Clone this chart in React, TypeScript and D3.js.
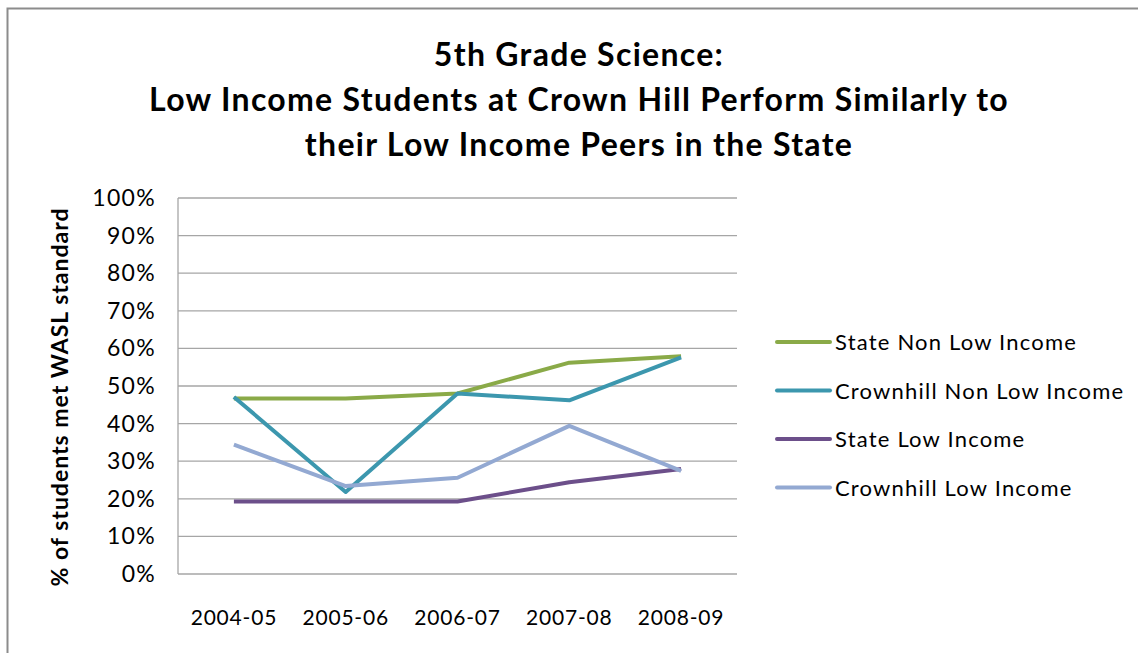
import React from "react";
import * as d3 from "d3";

const categories = ["2004-05", "2005-06", "2006-07", "2007-08", "2008-09"];
const stateNonLow = [46.7, 46.7, 48.0, 56.2, 57.9];
const crownNonLow = [47.1, 21.8, 48.0, 46.2, 57.6];
const stateLow = [19.3, 19.3, 19.3, 24.4, 27.9];
const crownLow = [34.4, 23.4, 25.6, 39.4, 27.4];
const yTicks = [0, 10, 20, 30, 40, 50, 60, 70, 80, 90, 100];
const titleLines = [
  "5th Grade Science:",
  "Low Income Students at Crown Hill Perform Similarly to",
  "their Low Income Peers in the State",
];

const series = [
  { name: "State Non Low Income", values: stateNonLow, color: "#8aaa48" },
  { name: "Crownhill Non Low Income", values: crownNonLow, color: "#3c97ae" },
  { name: "State Low Income", values: stateLow, color: "#6c4f8a" },
  { name: "Crownhill Low Income", values: crownLow, color: "#93a9d2" },
];

const W = 1138;
const H = 653;
const plot = { left: 178, right: 737, top: 198, bottom: 574 };
const FONT = "Lato, 'Open Sans', sans-serif";

export default function App() {
  const x = d3
    .scaleBand<string>()
    .domain(categories)
    .range([plot.left, plot.right]);
  const y = d3.scaleLinear().domain([0, 100]).range([plot.bottom, plot.top]);
  const line = d3
    .line<number>()
    .x((_, i) => (x(categories[i]) as number) + x.bandwidth() / 2)
    .y((d) => y(d));

  return (
    <svg
      width={W}
      height={H}
      style={{ position: "absolute", left: 0, top: 0, background: "#fff" }}
      fontFamily={FONT}
    >
      <rect x={0} y={0} width={W} height={H} fill="#fff" />
      <path d={`M7.5,${H} V8.5 H${W}`} fill="none" stroke="#8c8c8c" strokeWidth={2} />
      {titleLines.map((t, i) => (
        <text
          key={i}
          x={579}
          y={66 + i * 45}
          textAnchor="middle"
          fontWeight="bold"
          fontSize={32}
          letterSpacing={1.3}
          fill="#000"
        >
          {t}
        </text>
      ))}
      {yTicks.map((t) => (
        <g key={t}>
          <line
            x1={plot.left}
            x2={plot.right}
            y1={y(t)}
            y2={y(t)}
            stroke="#a6a6a6"
            strokeWidth={1.3}
          />
          <text x={156} y={y(t) + 8} textAnchor="end" fontSize={23} letterSpacing={1.3} fill="#000">
            {t}%
          </text>
        </g>
      ))}
      <line x1={plot.left} x2={plot.left} y1={plot.top} y2={plot.bottom} stroke="#a6a6a6" strokeWidth={1.3} />
      {categories.map((c) => (
        <text
          key={c}
          x={(x(c) as number) + x.bandwidth() / 2}
          y={625}
          textAnchor="middle"
          fontSize={21}
          letterSpacing={0.8}
          fill="#000"
        >
          {c}
        </text>
      ))}
      <text
        transform={`translate(68,397) rotate(-90)`}
        textAnchor="middle"
        fontWeight="bold"
        fontSize={23}
        letterSpacing={1}
        fill="#000"
      >
        % of students met WASL standard
      </text>
      {series.map((s) => (
        <path
          key={s.name}
          d={line(s.values) || ""}
          fill="none"
          stroke={s.color}
          strokeWidth={4}
          strokeLinejoin="round"
        />
      ))}
      {series.map((s, i) => (
        <g key={s.name} transform={`translate(0,${342 + i * 48.5})`}>
          <line x1={777} x2={830} y1={0} y2={0} stroke={s.color} strokeWidth={4} strokeLinecap="round" />
          <text x={835} y={8} fontSize={22} letterSpacing={1.2} fill="#000">
            {s.name}
          </text>
        </g>
      ))}
    </svg>
  );
}
